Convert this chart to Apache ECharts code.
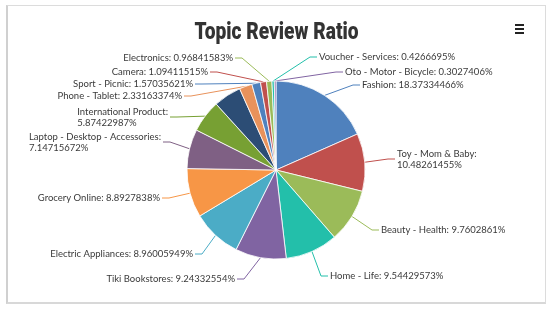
<!DOCTYPE html>
<html><head><meta charset="utf-8">
<script src="https://cdn.jsdelivr.net/npm/echarts@6/dist/echarts.min.js"></script>
<style>
html,body{margin:0;padding:0;background:#fff;}
#frame{position:absolute;left:6px;top:5px;width:540px;height:299px;border:1px solid #dcdcdc;border-left:2px solid #d0d0d0;border-bottom:2px solid #d8d8d8;box-sizing:border-box;}
#chart{position:absolute;left:0;top:0;width:550px;height:313px;}
</style></head>
<body>
<div id="frame"></div>
<div id="chart"></div>
<script>
const titleText = "Topic Review Ratio";
const categories = ["Fashion","Toy - Mom & Baby","Beauty - Health","Home - Life","Tiki Bookstores","Electric Appliances","Grocery Online","Laptop - Desktop - Accessories","International Product","Other","Phone - Tablet","Sport - Picnic","Camera","Electronics","Voucher - Services","Oto - Motor - Bicycle"];
const values = [18.37334466,10.48261455,9.7602861,9.54429573,9.24332554,8.96005949,8.8927838,7.14715672,5.87422987,5.03,2.33163374,1.57035621,1.09411515,0.96841583,0.4266695,0.3027406];
const valueTexts = ["18.37334466","10.48261455","9.7602861","9.54429573","9.24332554","8.96005949","8.8927838","7.14715672","5.87422987","","2.33163374","1.57035621","1.09411515","0.96841583","0.4266695","0.3027406"];
const hiddenLabels = ["Other"];
const wrapped = ["Toy - Mom & Baby","Laptop - Desktop - Accessories","International Product"];
const palette = ["#4f81bd","#c0504d","#9bbb59","#23bfaa","#8064a2","#4bacc6","#f79646","#7f6084","#77a033","#2c4d75","#e8925b"];

// label placement (style): [anchorX, centerY, side] side 'L' = label left of pie (anchor is its right edge), 'R' = right of pie (anchor is its left edge)
const labelPlace = [
  [362,85,'R'],[397,159,'R'],[381,230,'R'],[330,276,'R'],
  [235,279,'L'],[193,254,'L'],[160,198,'L'],[161,142,'L'],[168,117,'L'],null,
  [182,96,'L'],[193,84,'L'],[208,72,'L'],[233,58,'L'],[319,57,'R'],[345,72,'R']
];

const data = categories.map((c,i)=>{
  const d = {name:c, value:values[i]};
  if (hiddenLabels.includes(c)) { d.label={show:false}; d.labelLine={show:false}; }
  return d;
});

// title: condensed bold via horizontal scaling
const titleFont = "900 24px Roboto";
const cv = document.createElement('canvas').getContext('2d');
cv.font = titleFont;
const tw = cv.measureText(titleText).width;
const titleScale = 164 / tw;

const chart = echarts.init(document.getElementById('chart'));
chart.setOption({
  color: palette,
  animation:false,
  graphic:[
    {type:'text',x:276.5,y:33,scaleX:titleScale,style:{text:titleText,font:titleFont,fill:'#333',textAlign:'center',textVerticalAlign:'middle'}},
    {type:'rect',shape:{x:515,y:24,width:9,height:2},style:{fill:'#222'}},
    {type:'rect',shape:{x:515,y:28,width:9,height:2},style:{fill:'#222'}},
    {type:'rect',shape:{x:515,y:32,width:9,height:2},style:{fill:'#222'}}
  ],
  series:[{
    type:'pie',
    center:[276,170],
    radius:[0,89],
    startAngle:90,
    clockwise:true,
    data:data,
    itemStyle:{borderColor:'#fff',borderWidth:0.8},
    label:{
      fontFamily:"Lato, sans-serif",fontSize:9.5,color:'#3a3a3a',
      formatter:(p)=>{
        const v = valueTexts[p.dataIndex]+'%';
        if (wrapped.includes(p.name)) return p.name+':\n'+v;
        return p.name+': '+v;
      },
      lineHeight:11
    },
    labelLine:{length:10,length2:10,lineStyle:{width:1}},
    labelLayout:(p)=>{
      const pl = labelPlace[p.dataIndex];
      if (!pl || !p.labelLinePoints) return {};
      const w = p.labelRect.width;
      const edge = p.labelLinePoints[0];
      let x, end, elbow;
      if (pl[2]==='L') { x = pl[0]-w; end=[pl[0]+2,pl[1]]; elbow=[pl[0]+9,pl[1]]; }
      else { x = pl[0]; end=[pl[0]-2,pl[1]]; elbow=[pl[0]-9,pl[1]]; }
      return {x:x, y:pl[1], align:'left', verticalAlign:'middle', labelLinePoints:[edge,elbow,end]};
    }
  }]
});
</script>
</body></html>
